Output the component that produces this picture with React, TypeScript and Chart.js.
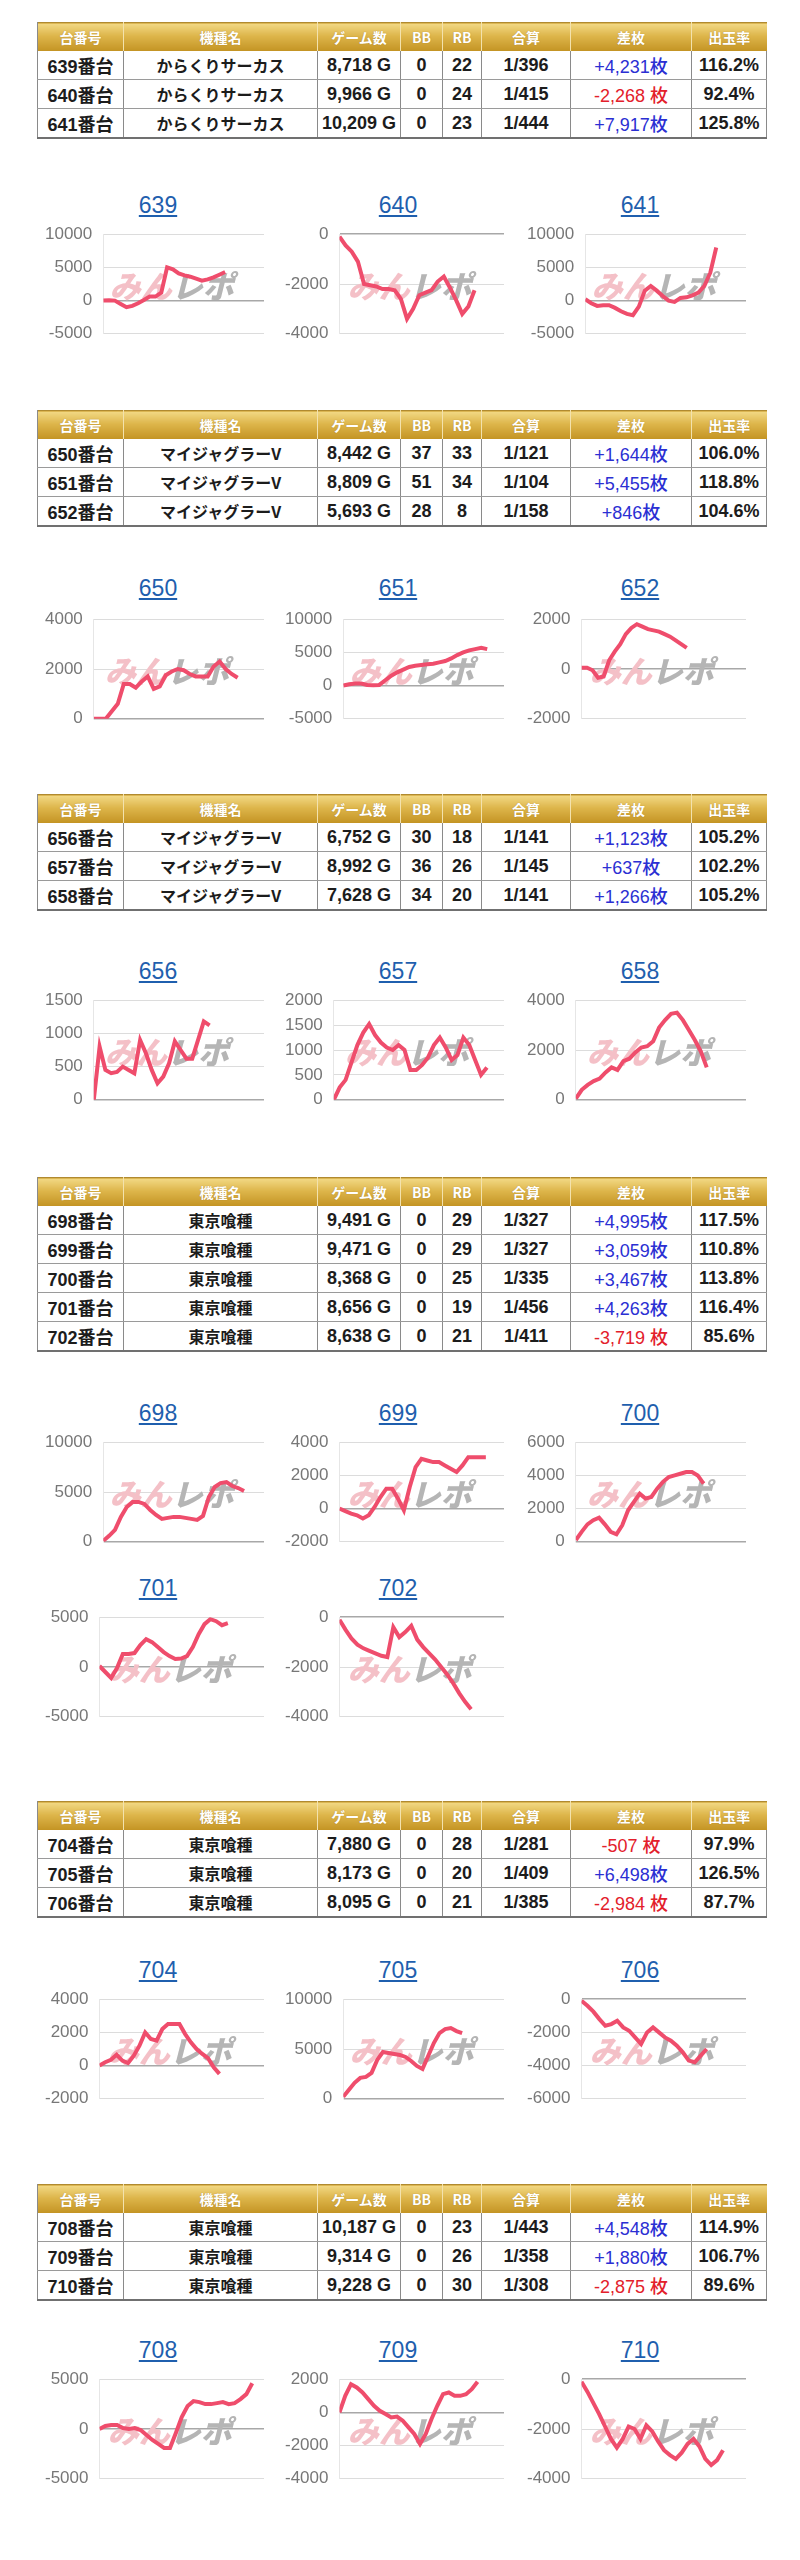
import React, { useEffect, useRef } from 'react';
import { Chart, registerables } from 'chart.js';

Chart.register(...registerables);

// ---------- table data ----------
const machineNos = ['639番台', '640番台', '641番台', '650番台', '651番台', '652番台', '656番台', '657番台', '658番台', '698番台', '699番台', '700番台', '701番台', '702番台', '704番台', '705番台', '706番台', '708番台', '709番台', '710番台'];
const machineNames = ['からくりサーカス', 'からくりサーカス', 'からくりサーカス', 'マイジャグラーV', 'マイジャグラーV', 'マイジャグラーV', 'マイジャグラーV', 'マイジャグラーV', 'マイジャグラーV', '東京喰種', '東京喰種', '東京喰種', '東京喰種', '東京喰種', '東京喰種', '東京喰種', '東京喰種', '東京喰種', '東京喰種', '東京喰種'];
const gameCounts = ['8,718 G', '9,966 G', '10,209 G', '8,442 G', '8,809 G', '5,693 G', '6,752 G', '8,992 G', '7,628 G', '9,491 G', '9,471 G', '8,368 G', '8,656 G', '8,638 G', '7,880 G', '8,173 G', '8,095 G', '10,187 G', '9,314 G', '9,228 G'];
const bbCounts = [0, 0, 0, 37, 51, 28, 30, 36, 34, 0, 0, 0, 0, 0, 0, 0, 0, 0, 0, 0];
const rbCounts = [22, 24, 23, 33, 34, 8, 18, 26, 20, 29, 29, 25, 19, 21, 28, 20, 21, 23, 26, 30];
const combinedRates = ['1/396', '1/415', '1/444', '1/121', '1/104', '1/158', '1/141', '1/145', '1/141', '1/327', '1/327', '1/335', '1/456', '1/411', '1/281', '1/409', '1/385', '1/443', '1/358', '1/308'];
const coinDiffs = [4231, -2268, 7917, 1644, 5455, 846, 1123, 637, 1266, 4995, 3059, 3467, 4263, -3719, -507, 6498, -2984, 4548, 1880, -2875];
const payoutRates = ['116.2%', '92.4%', '125.8%', '106.0%', '118.8%', '104.6%', '105.2%', '102.2%', '105.2%', '117.5%', '110.8%', '113.8%', '116.4%', '85.6%', '97.9%', '126.5%', '87.7%', '114.9%', '106.7%', '89.6%'];
const rowsPerTable = [3, 3, 3, 5, 3, 3];
const headerLabels = ['台番号', '機種名', 'ゲーム数', 'BB', 'RB', '合算', '差枚', '出玉率'];

// ---------- chart data ----------
const chartIds = ['639', '640', '641', '650', '651', '652', '656', '657', '658', '698', '699', '700', '701', '702', '704', '705', '706', '708', '709', '710'];
const s639 = [0, 50, 0, -500, -1000, -800, -400, 100, 600, 600, 1200, 5000, 4700, 4100, 3800, 3600, 3300, 3000, 3200, 3500, 3900, 4300];
const s640 = [-100, -450, -700, -1100, -2000, -2050, -2100, -2200, -2200, -2250, -2600, -3400, -3000, -2450, -2350, -2250, -1900, -1700, -2150, -2650, -3200, -2900, -2250];
const s641 = [200, -400, -800, -700, -700, -1100, -1600, -2000, -2200, -900, 1500, 2200, 1500, 700, 0, -200, 400, 500, 800, 1200, 2200, 4200, 8000];
const s650 = [0, 0, 0, 300, 600, 1400, 1400, 1250, 1500, 1700, 1200, 1300, 1750, 1900, 2000, 1950, 1800, 1700, 1700, 1700, 2100, 2300, 2000, 1800, 1650];
const s651 = [0, 200, 300, 300, 100, 50, 100, 800, 1500, 2000, 2400, 2800, 3000, 3100, 3200, 3300, 3500, 3700, 4100, 4600, 5000, 5300, 5500, 5700, 5500];
const s652 = [50, 50, -50, -350, -300, 350, 700, 1000, 1400, 1650, 1800, 1700, 1600, 1550, 1500, 1400, 1300, 1150, 1000, 850];
const s656 = [0, 800, 450, 400, 420, 500, 450, 400, 900, 700, 450, 250, 350, 550, 880, 750, 620, 620, 900, 1180, 1120];
const s657 = [0, 250, 400, 750, 1100, 1350, 1520, 1300, 1150, 1050, 1000, 1100, 1000, 600, 600, 700, 850, 1100, 1250, 1050, 800, 900, 1250, 1100, 800, 500, 650];
const s658 = [50, 400, 600, 750, 850, 1100, 1300, 1200, 1550, 1650, 1900, 2100, 2150, 2350, 2900, 3200, 3450, 3500, 3200, 2800, 2400, 1950, 1300];
const s698 = [100, 600, 1200, 2500, 3500, 4000, 4000, 3800, 3200, 2700, 2300, 2400, 2500, 2500, 2400, 2300, 2200, 2600, 4500, 5500, 5900, 6000, 5600, 5400, 5100];
const s699 = [0, -150, -300, -400, -600, -400, 100, 700, 1200, 1200, 600, -100, 1300, 2500, 3000, 2900, 2800, 2800, 2600, 2400, 2200, 2600, 3100, 3100, 3100, 3100];
const s700 = [100, 600, 1050, 1300, 1450, 1050, 600, 450, 1000, 1900, 2400, 2900, 2600, 2700, 3200, 3600, 3900, 4000, 4100, 4200, 4200, 4000, 3500];
const s701 = [100, -500, -1100, -100, 1300, 1300, 1400, 2200, 2800, 2500, 2000, 1500, 1100, 800, 850, 1100, 2000, 3300, 4300, 4800, 4600, 4200, 4400];
const s702 = [-100, -500, -850, -1100, -1250, -1350, -1450, -1550, -1600, -400, -800, -600, -350, -900, -1200, -1450, -1700, -2000, -2300, -2650, -3050, -3400, -3700];
const s704 = [0, 200, 350, 650, 300, 150, 600, 1200, 2000, 1600, 1500, 2200, 2500, 2500, 2500, 1900, 1400, 1000, 700, 450, -100, -500];
const s705 = [200, 900, 1600, 2100, 2200, 2600, 3900, 4700, 4600, 4500, 4400, 4200, 3800, 3300, 3000, 4300, 5600, 6600, 7000, 7100, 6800, 6600];
const s706 = [-100, -400, -750, -1200, -1600, -1500, -1300, -1700, -1900, -2300, -2700, -2000, -1700, -2000, -2300, -2500, -2800, -3200, -3700, -3800, -3400, -3000];
const s708 = [0, 300, 400, 400, 100, 0, 100, -100, -600, -1100, -1500, -1900, -1900, -400, 1200, 2300, 2800, 2700, 2500, 2500, 2600, 2700, 2500, 2600, 3000, 3500, 4600];
const s709 = [0, 1000, 1700, 1500, 1200, 800, 400, 100, -100, -300, -250, -500, -900, -1300, -1900, -1300, -400, 400, 1100, 1200, 1000, 1000, 1100, 1400, 1850];
const s710 = [-100, -500, -950, -1400, -1900, -2400, -2750, -2400, -1900, -2000, -2400, -1850, -2100, -2500, -2850, -3050, -3200, -2950, -2600, -2400, -2700, -3200, -3450, -3250, -2850];
const seriesList = [s639, s640, s641, s650, s651, s652, s656, s657, s658, s698, s699, s700, s701, s702, s704, s705, s706, s708, s709, s710];
const yMins = [-5000, -4000, -5000, 0, -5000, -2000, 0, 0, 0, 0, -2000, 0, -5000, -4000, -2000, 0, -6000, -5000, -4000, -4000];
const yMaxs = [10000, 0, 10000, 4000, 10000, 2000, 1500, 2000, 4000, 10000, 4000, 6000, 5000, 0, 4000, 10000, 0, 5000, 2000, 0];
const ySteps = [5000, 2000, 5000, 2000, 5000, 2000, 500, 500, 2000, 5000, 2000, 2000, 5000, 2000, 2000, 5000, 2000, 5000, 2000, 2000];
const xSlots = [27.7, 26.8, 27, 28.4, 26.8, 29.7, 29.4, 28.9, 28.6, 27.4, 28.1, 29.3, 28.2, 27.5, 28.8, 28.4, 27.6, 28, 28.6, 27.9];

// ---------- layout ----------
const TABLE_LEFT = 37;
const COL_WIDTHS = [86, 194, 83, 42, 39, 89, 121, 75];
const tableTops = [22, 410, 794, 1177, 1801, 2184];
const chartRowTops = [225, 610, 991, 1433, 1608, 1990, 2370];
const titleCenters = [205, 588, 971, 1413, 1588, 1970, 2350];
const chartRowCounts = [3, 3, 3, 3, 2, 3, 3];
const CELL_LEFTS = [28, 268, 510];
const CELL_W = 240;
const PLOT_H = 118;
const CANVAS_PAD = 12;
const TICK_SIZE = 17;

const LINE_COLOR = '#ef4d6c';
const BODY_FONT = '"Liberation Sans", Arial, "Noto Sans CJK JP", sans-serif';

const watermark = {
  id: 'minrepoWatermark',
  beforeDatasetsDraw(chart: any) {
    const { ctx, chartArea: a } = chart;
    ctx.save();
    ctx.font = 'italic 900 31px "Noto Sans CJK JP", sans-serif';
    ctx.textBaseline = 'middle';
    const w1 = ctx.measureText('みん').width;
    const w2 = ctx.measureText('レポ').width;
    const cx = (a.left + a.right) / 2 - 12;
    const cy = (a.top + a.bottom) / 2 + 2;
    const x = cx - (w1 + w2) / 2;
    ctx.fillStyle = '#f4c0c7';
    ctx.fillText('みん', x, cy);
    ctx.fillStyle = '#b5b5b5';
    ctx.fillText('レポ', x + w1, cy);
    ctx.restore();
  },
};

function MiniChart({ idx, left, plotTop, titleCenter }: { idx: number; left: number; plotTop: number; titleCenter: number }) {
  const ref = useRef<HTMLCanvasElement>(null);
  useEffect(() => {
    const values = seriesList[idx];
    const half = (TICK_SIZE * 1.2) / 2;
    const pad = Math.max(0, CANVAS_PAD - half);
    const chart = new Chart(ref.current as HTMLCanvasElement, {
      type: 'line',
      data: {
        datasets: [
          {
            data: values.map((v, i) => ({ x: i, y: v })),
            borderColor: LINE_COLOR,
            borderWidth: 4,
            pointRadius: 0,
            tension: 0,
            fill: false,
          },
        ],
      },
      options: {
        animation: false,
        responsive: true,
        maintainAspectRatio: false,
        layout: { padding: { top: pad, bottom: pad, left: 6, right: 4 } },
        plugins: { legend: { display: false }, tooltip: { enabled: false } },
        scales: {
          x: { type: 'linear', min: 0, max: xSlots[idx], display: false },
          y: {
            min: yMins[idx],
            max: yMaxs[idx],
            ticks: {
              stepSize: ySteps[idx],
              color: '#777777',
              font: { size: TICK_SIZE, family: '"Liberation Sans", Arial, sans-serif' },
              padding: 11,
              callback: (v: any) => String(v),
            },
            grid: {
              color: (c: any) => (c.tick && c.tick.value === 0 ? '#a8a8a8' : '#dcdcdc'),
              lineWidth: (c: any) => (c.tick && c.tick.value === 0 ? 1.5 : 1),
              drawTicks: false,
            },
            border: { display: true, color: '#e6e6e6', width: 1 },
          },
        },
      },
      plugins: [watermark],
    } as any);
    return () => chart.destroy();
  }, [idx]);
  return (
    <>
      <div
        style={{
          position: 'absolute',
          left: left + 10,
          top: titleCenter - 15,
          width: CELL_W,
          height: 30,
          lineHeight: '30px',
          textAlign: 'center',
          fontFamily: '"Liberation Sans", Arial, sans-serif',
          fontSize: 23,
          color: '#1f5fae',
          textDecoration: 'underline',
        }}
      >
        {chartIds[idx]}
      </div>
      <div style={{ position: 'absolute', left, top: plotTop - CANVAS_PAD, width: CELL_W, height: PLOT_H + 2 * CANVAS_PAD }}>
        <canvas ref={ref} />
      </div>
    </>
  );
}

function formatDiff(v: number) {
  const s = Math.abs(v).toLocaleString('en-US');
  return v >= 0 ? `+${s}枚` : `-${s} 枚`;
}

function DataTable({ start, count, top }: { start: number; count: number; top: number }) {
  const th: React.CSSProperties = {
    height: 28,
    padding: 0,
    color: '#ffffff',
    fontSize: 14,
    fontWeight: 700,
    fontFamily: '"Noto Sans CJK JP", "Liberation Sans", sans-serif',
    textAlign: 'center',
    background: 'linear-gradient(180deg, #f2d985 0%, #ddb54a 45%, #c39323 100%)',
    borderLeft: '1px solid #f3e2ad',
    textShadow: '0 0 1px rgba(120,80,0,0.5)',
  };
  const td: React.CSSProperties = {
    height: 28,
    padding: 0,
    fontSize: 18,
    fontWeight: 700,
    fontFamily: BODY_FONT,
    color: '#1c1c1c',
    textAlign: 'center',
    borderLeft: '1px solid #8a8a8a',
    borderRight: '1px solid #8a8a8a',
    borderBottom: '1px solid #9a9a9a',
    background: '#ffffff',
    whiteSpace: 'nowrap',
  };
  const rows = [];
  for (let i = start; i < start + count; i++) {
    const v = coinDiffs[i];
    rows.push(
      <tr key={i}>
        <td style={td}>{machineNos[i]}</td>
        <td style={{ ...td, fontFamily: '"Noto Sans CJK JP", sans-serif', fontSize: 16 }}>{machineNames[i]}</td>
        <td style={td}>{gameCounts[i]}</td>
        <td style={td}>{bbCounts[i]}</td>
        <td style={td}>{rbCounts[i]}</td>
        <td style={td}>{combinedRates[i]}</td>
        <td style={{ ...td, color: v >= 0 ? '#2b2fd3' : '#e3202b', fontWeight: 500 }}>{formatDiff(v)}</td>
        <td style={td}>{payoutRates[i]}</td>
      </tr>
    );
  }
  return (
    <table
      style={{
        position: 'absolute',
        left: TABLE_LEFT,
        top,
        width: COL_WIDTHS.reduce((a, b) => a + b, 0),
        borderCollapse: 'collapse',
        tableLayout: 'fixed',
        borderTop: '1px solid #b08a30',
        borderBottom: '2px solid #707070',
      }}
    >
      <colgroup>
        {COL_WIDTHS.map((w, i) => (
          <col key={i} style={{ width: w }} />
        ))}
      </colgroup>
      <thead>
        <tr>
          {headerLabels.map((h, i) => (
            <th key={i} style={{ ...th, borderLeft: i === 0 ? '1px solid #8a8a8a' : th.borderLeft }}>
              {h}
            </th>
          ))}
        </tr>
      </thead>
      <tbody>{rows}</tbody>
    </table>
  );
}

export default function App() {
  const tables = [];
  let rowStart = 0;
  for (let t = 0; t < rowsPerTable.length; t++) {
    tables.push(<DataTable key={t} start={rowStart} count={rowsPerTable[t]} top={tableTops[t]} />);
    rowStart += rowsPerTable[t];
  }
  const charts = [];
  let idx = 0;
  for (let r = 0; r < chartRowTops.length; r++) {
    for (let c = 0; c < chartRowCounts[r]; c++) {
      charts.push(
        <MiniChart key={idx} idx={idx} left={CELL_LEFTS[c]} plotTop={chartRowTops[r]} titleCenter={titleCenters[r]} />
      );
      idx++;
    }
  }
  return (
    <div
      style={{
        position: 'absolute',
        left: 0,
        top: 0,
        width: 800,
        height: 2560,
        background: '#ffffff',
      }}
    >
      {tables}
      {charts}
    </div>
  );
}
